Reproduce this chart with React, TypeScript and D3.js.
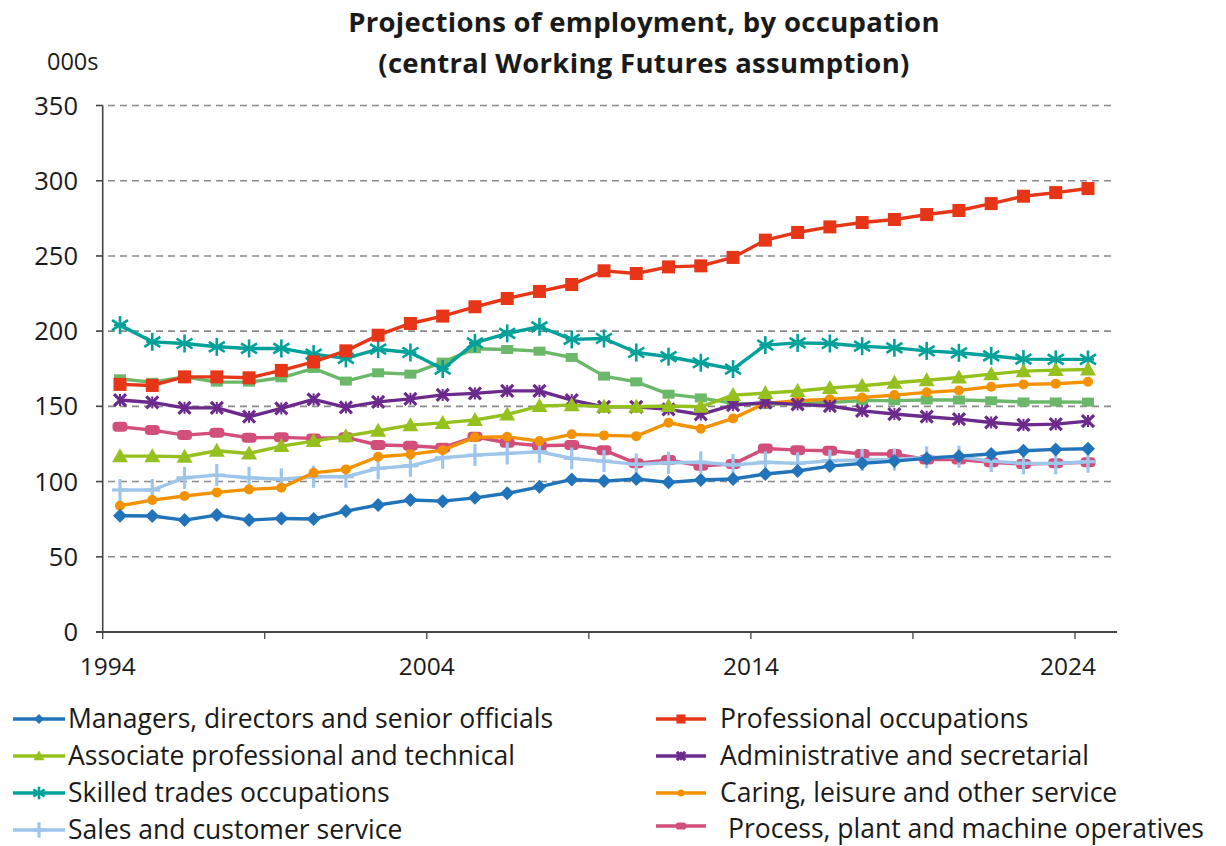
import React from "react";
import * as d3 from "d3";

const years: number[] = d3.range(1994, 2025);

const managers = [77.3,77.1,74.4,77.7,74.4,75.5,75.1,80.4,84.4,87.7,87,89.2,92.2,96.5,101.4,100.3,101.7,99.5,101,101.7,105,107,110.3,112.1,113.6,115.4,116.9,118.3,120.5,121.4,121.8];
const professional = [164.6,163.9,169.6,169.6,169,173.9,179.6,186.9,197.3,205.1,210,216.2,221.7,226.4,231,240.1,238.3,242.7,243.4,249,260.5,265.6,269.3,272.2,274.2,277.5,280.2,284.8,289.7,292.1,294.8];
const associate = [116.9,116.9,116.5,120.5,118.7,123.6,126.9,130.2,133.8,137.5,139,140.9,144.6,150.2,150.8,149.7,149.7,150.2,149.7,157.5,158.8,160.2,162.2,163.7,165.7,167.4,169.2,171.4,173.4,174.1,174.5];
const administrative = [154.2,152.6,149,149,143.1,148.6,154.6,149.3,153,155,157.6,158.6,160.3,160.3,154.2,149.7,149.7,148,144.6,150.8,152.5,151.3,150.2,147,144.9,143.1,141.5,139.3,137.7,138.2,140.2];
const skilled = [204,192.9,191.8,189.6,188.5,188.5,184.7,181.9,188,185.8,174.8,192.2,198.5,202.9,194.5,195.1,185.8,183,179,174.8,190.7,192.2,191.8,190,188.9,186.9,185.6,183.6,181.4,181.2,181.2];
const caring = [83.9,87.7,90.4,92.8,94.8,95.9,105.8,108.1,116.5,118.1,120.9,129.4,129.8,126.9,131.4,130.7,130.2,139.1,135.1,142,152,153.7,154.8,155.9,157.5,159.3,160.6,163,164.6,165,166.3];
const sales = [94.4,94.4,102.5,104.3,102.5,101.5,103.2,103.2,108.8,110.5,115.8,117.6,118.7,119.8,115.4,113.6,111.4,112.5,112.8,111,112.8,112.1,113.8,114.3,114.7,116.1,116.5,113.6,112.1,112.1,113.2];
const process = [136.4,134.2,130.9,132.4,129.1,129.4,128.7,129.4,124.3,123.8,122.5,129.8,125.8,123.8,124.3,120.9,112.1,114.3,110.5,111.6,122,120.9,120.5,118.3,118.3,114.7,114.7,112.8,111.6,112.1,112.8];
const elementary = [168.3,166,169.6,166.1,166.1,169,175.2,166.8,172.3,171.4,179.4,188.3,187.8,186.7,182.5,170.1,166.3,158.1,155.6,152,151.3,151.9,152.6,153.8,153.8,154.2,154.2,153.7,152.9,152.9,152.8];

const yTicks = [0, 50, 100, 150, 200, 250, 300, 350];
const xTickYears = [1994, 1999, 2004, 2009, 2014, 2019, 2024];
const xLabelYears = [1994, 2004, 2014, 2024];

type Marker = "diamond" | "square" | "triangle" | "xmark" | "star" | "circle" | "plus" | "pill" | "smallsq";

interface Series { name: string; values: number[]; color: string; marker: Marker; legend: boolean; }

const series: Series[] = [
  { name: "Elementary occupations", values: elementary, color: "#6cb86a", marker: "smallsq", legend: false },
  { name: "Process, plant and machine operatives", values: process, color: "#d24f7c", marker: "pill", legend: true },
  { name: "Sales and customer service", values: sales, color: "#9ec5ea", marker: "plus", legend: true },
  { name: "Caring, leisure and other service", values: caring, color: "#f39200", marker: "circle", legend: true },
  { name: "Skilled trades occupations", values: skilled, color: "#00a19a", marker: "star", legend: true },
  { name: "Administrative and secretarial", values: administrative, color: "#6b2a8c", marker: "xmark", legend: true },
  { name: "Associate professional and technical", values: associate, color: "#95c11f", marker: "triangle", legend: true },
  { name: "Professional occupations", values: professional, color: "#e63517", marker: "square", legend: true },
  { name: "Managers, directors and senior officials", values: managers, color: "#2173ba", marker: "diamond", legend: true },
];

const legendLeft = ["Managers, directors and senior officials", "Associate professional and technical", "Skilled trades occupations", "Sales and customer service"];
const legendRight = ["Professional occupations", "Administrative and secretarial", "Caring, leisure and other service", "Process, plant and machine operatives"];

const FONT = "'Open Sans', 'Noto Sans', sans-serif";

function MarkerShape({ type, x, y, color, s = 1 }: { type: Marker; x: number; y: number; color: string; s?: number }) {
  switch (type) {
    case "diamond":
      return <path d={`M${x},${y - 7 * s}L${x + 7 * s},${y}L${x},${y + 7 * s}L${x - 7 * s},${y}Z`} fill={color} />;
    case "square":
      return <rect x={x - 6.5 * s} y={y - 6.5 * s} width={13 * s} height={13 * s} fill={color} />;
    case "smallsq":
      return <rect x={x - 6 * s} y={y - 4.5 * s} width={12 * s} height={9 * s} fill={color} />;
    case "triangle":
      return <path d={`M${x},${y - 8 * s}L${x + 8 * s},${y + 6 * s}L${x - 8 * s},${y + 6 * s}Z`} fill={color} />;
    case "circle":
      return <circle cx={x} cy={y} r={5 * s} fill={color} />;
    case "pill":
      return <rect x={x - 7.5 * s} y={y - 5 * s} width={15 * s} height={10 * s} rx={4 * s} fill={color} />;
    case "plus":
      return (
        <g stroke={color} strokeWidth={3.2}>
          <line x1={x} y1={y - 11 * s} x2={x} y2={y + 11 * s} />
          <line x1={x - 8 * s} y1={y} x2={x + 8 * s} y2={y} />
        </g>
      );
    case "xmark":
      return (
        <g stroke={color} strokeWidth={3.2}>
          <line x1={x - 6 * s} y1={y - 6 * s} x2={x + 6 * s} y2={y + 6 * s} />
          <line x1={x - 6 * s} y1={y + 6 * s} x2={x + 6 * s} y2={y - 6 * s} />
          <line x1={x} y1={y - 6 * s} x2={x} y2={y + 6 * s} strokeWidth={2} />
        </g>
      );
    case "star":
      return (
        <g stroke={color} strokeWidth={2.6}>
          <line x1={x} y1={y - 9 * s} x2={x} y2={y + 9 * s} />
          <line x1={x - 8 * s} y1={y - 5 * s} x2={x + 8 * s} y2={y + 5 * s} />
          <line x1={x - 8 * s} y1={y + 5 * s} x2={x + 8 * s} y2={y - 5 * s} />
          <line x1={x - 6 * s} y1={y} x2={x + 6 * s} y2={y} />
        </g>
      );
  }
  return null;
}

export default function App() {
  const W = 1226, H = 846;
  const axisX = d3.scaleLinear().domain([1994, 2024]).range([102.7, 1075]);
  const xPt = d3.scaleLinear().domain([1994, 2024]).range([120, 1088]);
  const y = d3.scaleLinear().domain([0, 350]).range([632, 105.5]);
  const line = d3.line<number>().x((_, i) => xPt(years[i])).y((v) => y(v));

  const byName = (n: string) => series.find((s) => s.name === n)!;

  return (
    <svg width={W} height={H} style={{ position: "absolute", left: 0, top: 0, background: "#fff" }} fontFamily={FONT}>
      <rect width={W} height={H} fill="#fff" />
      {/* title */}
      <text x={644} y={32} textAnchor="middle" fontSize={27.5} fontWeight="bold" letterSpacing={0.3} fill="#1a1a1a">Projections of employment, by occupation</text>
      <text x={644} y={73} textAnchor="middle" fontSize={27.5} fontWeight="bold" letterSpacing={0.3} fill="#1a1a1a">(central Working Futures assumption)</text>
      <text x={47} y={70} fontSize={23.5} fill="#1a1a1a">000s</text>

      {/* grid */}
      {yTicks.filter((t) => t > 0).map((t) => (
        <line key={t} x1={96} x2={1116} y1={y(t)} y2={y(t)} stroke="#8a8a8a" strokeWidth={1.6} strokeDasharray="7,5" />
      ))}
      {yTicks.map((t) => (
        <g key={"yl" + t}>
          <line x1={96} x2={102.7} y1={y(t)} y2={y(t)} stroke="#444" strokeWidth={1.3} />
          <text x={78} y={y(t) + 9} textAnchor="end" fontSize={25.5} fill="#1a1a1a">{t}</text>
        </g>
      ))}
      {/* axes */}
      <line x1={102.7} x2={102.7} y1={y(350)} y2={y(0)} stroke="#444" strokeWidth={1.6} />
      <line x1={96} x2={1117} y1={y(0)} y2={y(0)} stroke="#444" strokeWidth={2} />
      {xTickYears.map((yr) => (
        <line key={"xt" + yr} x1={axisX(yr)} x2={axisX(yr)} y1={y(0)} y2={y(0) + 7} stroke="#444" strokeWidth={1.3} />
      ))}
      {xLabelYears.map((yr) => (
        <text key={"xl" + yr} x={axisX(yr) + (yr === 1994 ? 5 : yr === 2024 ? -7 : 0)} y={675} textAnchor="middle" fontSize={24.5} fill="#1a1a1a">{yr}</text>
      ))}

      {/* series */}
      {series.map((s) => (
        <g key={s.name}>
          <path d={line(s.values) || ""} fill="none" stroke={s.color} strokeWidth={3.4} strokeLinejoin="round" />
          {s.values.map((v, i) => (
            <MarkerShape key={i} type={s.marker} x={xPt(years[i])} y={y(v)} color={s.color} />
          ))}
        </g>
      ))}

      {/* legend */}
      {legendLeft.map((n, i) => {
        const s = byName(n);
        const cy = 719 + i * 37;
        return (
          <g key={"ll" + n}>
            <line x1={13} x2={65} y1={cy} y2={cy} stroke={s.color} strokeWidth={3.4} />
            <MarkerShape type={s.marker} x={39} y={cy} color={s.color} s={0.7} />
            <text x={68} y={cy + 9} fontSize={26.5} fill="#1a1a1a">{n}</text>
          </g>
        );
      })}
      {legendRight.map((n, i) => {
        const s = byName(n);
        const cy = 719 + i * 37;
        const ly = cy - (i === 3 ? 4 : 0);
        return (
          <g key={"lr" + n}>
            <line x1={656} x2={706} y1={ly} y2={ly} stroke={s.color} strokeWidth={3.4} />
            <MarkerShape type={s.marker} x={681} y={ly} color={s.color} s={0.7} />
            <text x={i === 3 ? 728 : 720} y={i === 3 ? 838 : cy + 9} fontSize={26.5} fill="#1a1a1a">{n}</text>
          </g>
        );
      })}
    </svg>
  );
}
